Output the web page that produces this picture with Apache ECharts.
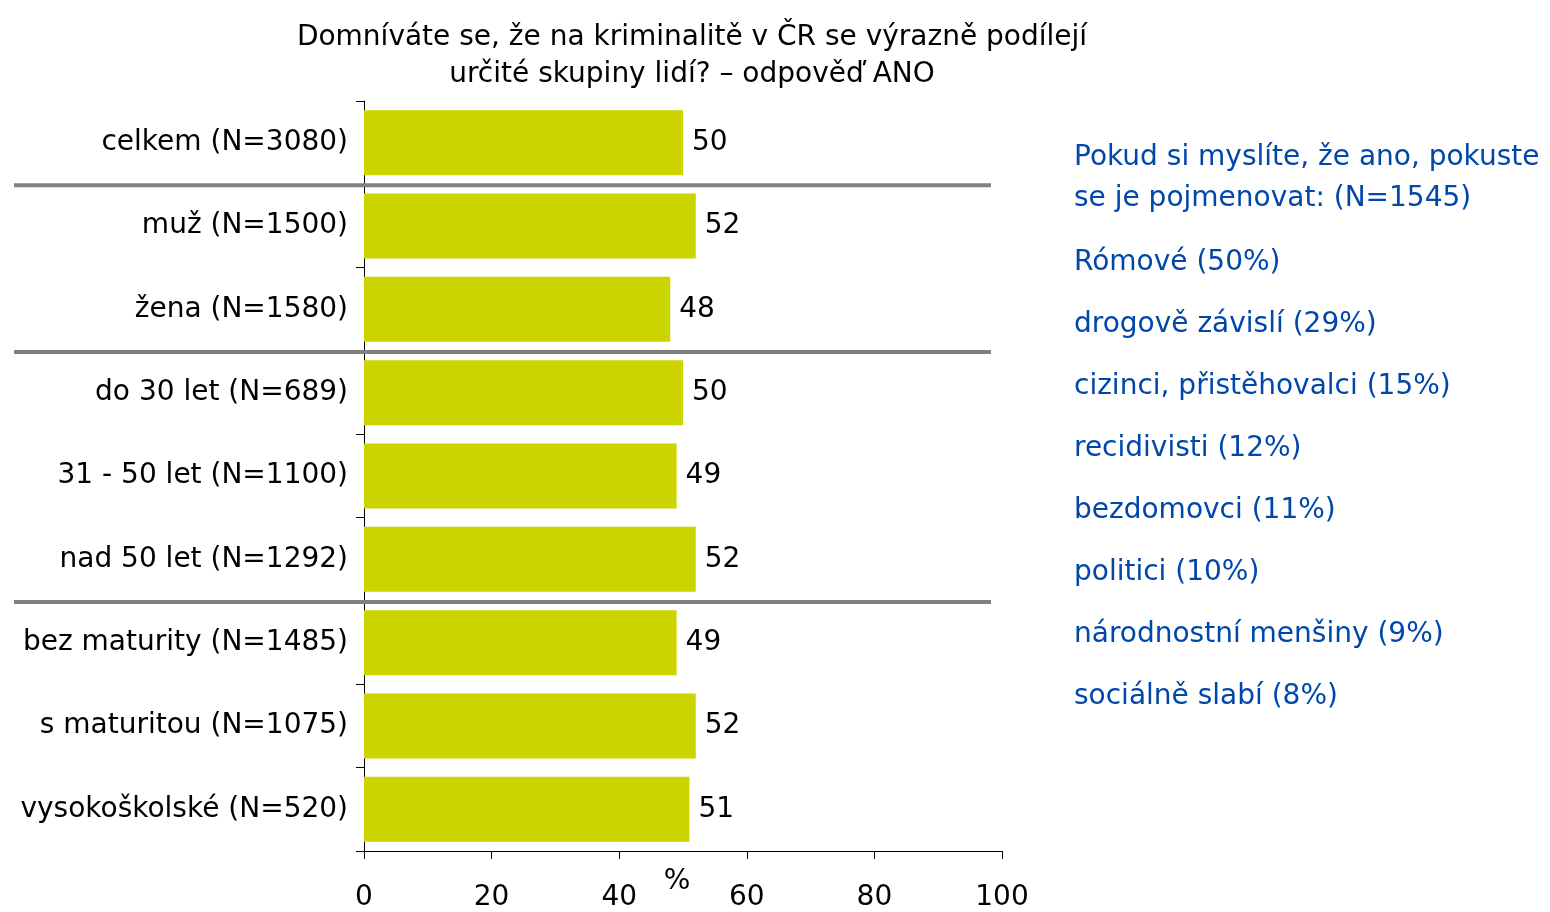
<!DOCTYPE html>
<html>
<head>
<meta charset="utf-8">
<script src="https://cdn.jsdelivr.net/npm/echarts@6/dist/echarts.min.js"></script>
<style>
  html, body { margin: 0; padding: 0; background: #fff; }
  #chart { width: 1550px; height: 912px; }
</style>
</head>
<body>
<div id="chart"></div>
<script>
var categories = ['celkem (N=3080)', 'muž (N=1500)', 'žena (N=1580)', 'do 30 let (N=689)',
  '31 - 50 let (N=1100)', 'nad 50 let (N=1292)', 'bez maturity (N=1485)',
  's maturitou (N=1075)', 'vysokoškolské (N=520)'];
var values = [50, 52, 48, 50, 49, 52, 49, 52, 51];
// lines drawn after these category indexes
var separatorsAfter = [0, 2, 5];
var sideHeader = ['Pokud si myslíte, že ano, pokuste', 'se je pojmenovat: (N=1545)'];
var sideItems = ['Rómové (50%)', 'drogově závislí (29%)', 'cizinci, přistěhovalci (15%)',
  'recidivisti (12%)', 'bezdomovci (11%)', 'politici (10%)', 'národnostní menšiny (9%)',
  'sociálně slabí (8%)'];

var font = 'DejaVu Sans';
var chart = echarts.init(document.getElementById('chart'));

chart.setOption({
  animation: false,
  title: {
    text: 'Domníváte se, že na kriminalitě v ČR se výrazně podílejí\nurčité skupiny lidí? – odpověď ANO',
    left: 687,
    top: 14,
    textAlign: 'center',
    textStyle: { fontFamily: font, fontSize: 28, fontWeight: 'normal', color: '#000', lineHeight: 37 }
  },
  grid: { left: 364, right: 548, top: 101, bottom: 61, outerBoundsMode: 'none' },
  xAxis: {
    type: 'value',
    min: 0, max: 100, interval: 20,
    name: '%',
    nameLocation: 'middle',
    nameGap: 17,
    nameMoveOverlap: false,
    nameTextStyle: { fontFamily: font, fontSize: 28, color: '#000', padding: [0, 12, 0, 0] },
    axisLine: { show: true, lineStyle: { color: '#000', width: 1 } },
    axisTick: { show: true, length: 8, lineStyle: { color: '#000' } },
    axisLabel: { fontFamily: font, fontSize: 28, color: '#000', margin: 33 },
    splitLine: { show: false }
  },
  yAxis: {
    type: 'category',
    inverse: true,
    data: categories,
    axisLine: { show: true, lineStyle: { color: '#000', width: 1 } },
    axisTick: { show: true, length: 8, lineStyle: { color: '#000' } },
    axisLabel: { fontFamily: font, fontSize: 28, color: '#000', margin: 16, padding: [10, 0, 0, 0] }
  },
  series: [{
    type: 'bar',
    data: values,
    barCategoryGap: '22%',
    itemStyle: { color: '#CCD400' },
    label: {
      show: true, position: 'right', distance: 9,
      fontFamily: font, fontSize: 28, color: '#000', padding: [10, 0, 0, 0]
    }
  }]
});

// separator lines and side text
var graphics = [];
separatorsAfter.forEach(function (i) {
  var y1 = chart.convertToPixel({ yAxisIndex: 0 }, categories[i]);
  var y2 = chart.convertToPixel({ yAxisIndex: 0 }, categories[i + 1]);
  var y = (y1 + y2) / 2 + 1;
  graphics.push({
    type: 'line',
    shape: { x1: 14, y1: y, x2: 991, y2: y },
    style: { stroke: '#808080', lineWidth: 4 },
    z: 10
  });
});
sideHeader.forEach(function (t, i) {
  graphics.push({
    type: 'text', left: 1074, top: 144 + i * 41,
    style: { text: t, fontFamily: font, fontSize: 28, fill: '#0047AB' }
  });
});
sideItems.forEach(function (t, i) {
  graphics.push({
    type: 'text', left: 1074, top: 249 + i * 62,
    style: { text: t, fontFamily: font, fontSize: 28, fill: '#0047AB' }
  });
});
chart.setOption({ graphic: graphics });
</script>
</body>
</html>
